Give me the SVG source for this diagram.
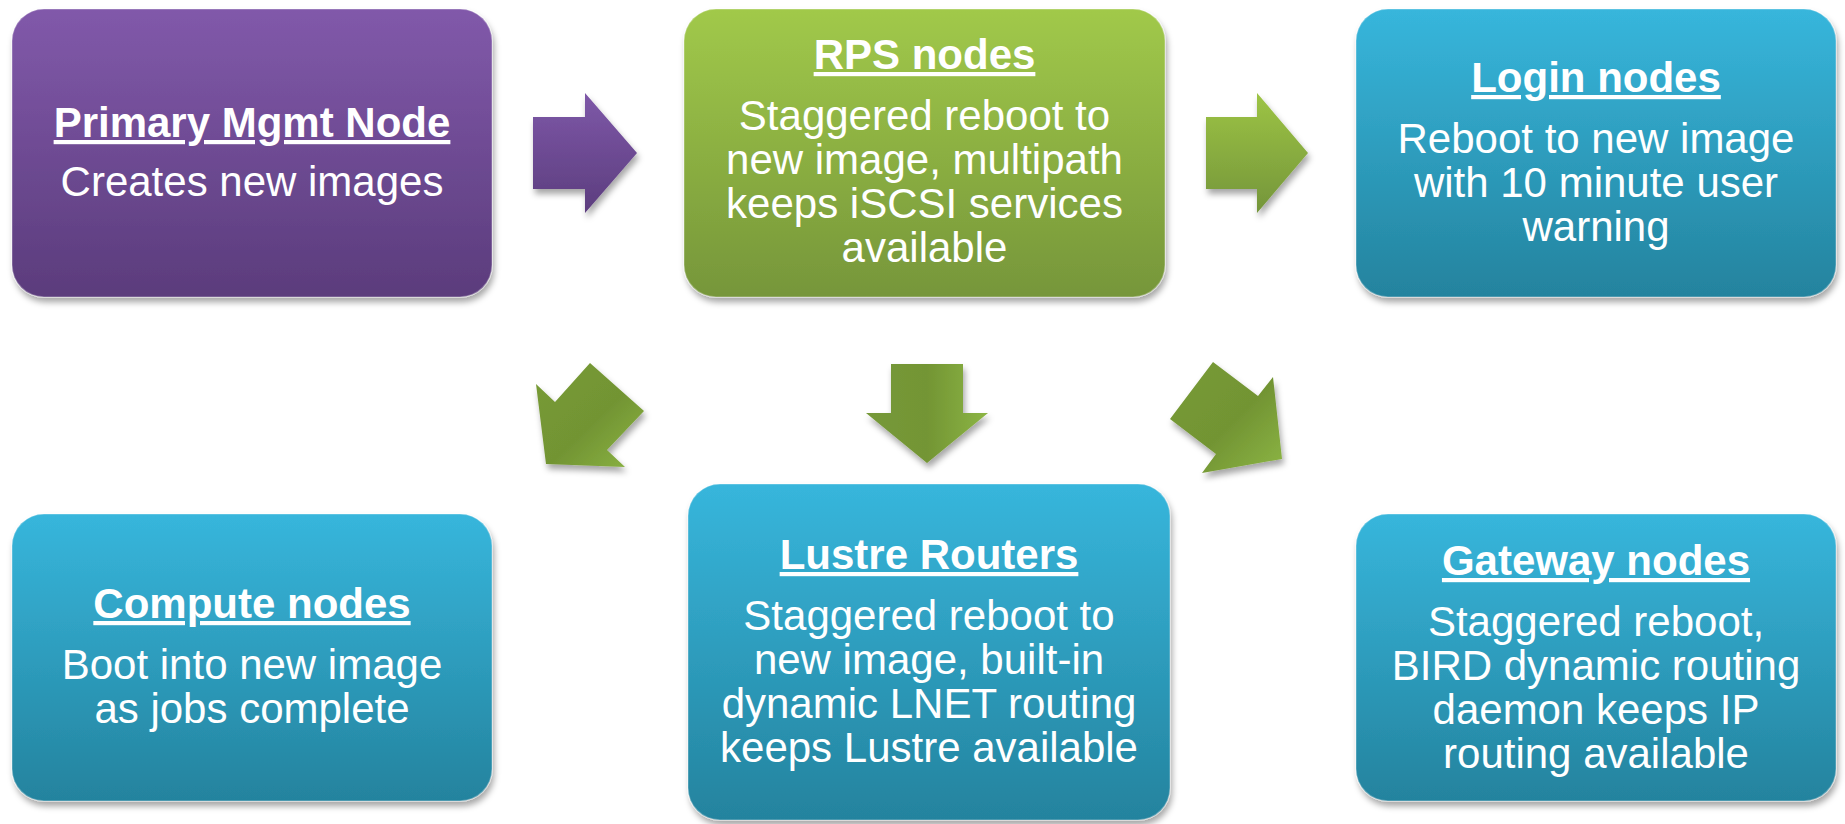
<svg xmlns="http://www.w3.org/2000/svg" width="1845" height="824" viewBox="0 0 1845 824">
  <defs>
    <linearGradient id="gPurple" x1="0" y1="0" x2="0" y2="1">
      <stop offset="0" stop-color="#8159aa"/>
      <stop offset="1" stop-color="#5b3c7c"/>
    </linearGradient>
    <linearGradient id="gGreen" x1="0" y1="0" x2="0" y2="1">
      <stop offset="0" stop-color="#a1c94a"/>
      <stop offset="1" stop-color="#76963a"/>
    </linearGradient>
    <linearGradient id="gBlue" x1="0" y1="0" x2="0" y2="1">
      <stop offset="0" stop-color="#37b6dc"/>
      <stop offset="1" stop-color="#24839e"/>
    </linearGradient>
    <linearGradient id="gArrowPurple" x1="0" y1="0" x2="0" y2="1">
      <stop offset="0" stop-color="#7e58a8"/>
      <stop offset="1" stop-color="#5c3d7e"/>
    </linearGradient>
    <linearGradient id="gArrowGreen" x1="0" y1="0" x2="0" y2="1">
      <stop offset="0" stop-color="#9dc445"/>
      <stop offset="1" stop-color="#74953a"/>
    </linearGradient>
    <linearGradient id="gArrowDiag" x1="0" y1="0" x2="1" y2="1">
      <stop offset="0" stop-color="#789b36"/>
      <stop offset="0.55" stop-color="#729433"/>
      <stop offset="1" stop-color="#8cb544"/>
    </linearGradient>
    <linearGradient id="gArrowDown" x1="0" y1="0" x2="1" y2="0">
      <stop offset="0" stop-color="#76993a"/>
      <stop offset="0.5" stop-color="#739534"/>
      <stop offset="1" stop-color="#8cb544"/>
    </linearGradient>
    <filter id="shadow" x="-10%" y="-10%" width="125%" height="130%">
      <feDropShadow dx="2" dy="5" stdDeviation="3" flood-color="#000" flood-opacity="0.35"/>
    </filter>
  </defs>
  <style>
    .box { filter: url(#shadow); stroke: rgba(255,255,255,0.25); stroke-width: 1.5; }
    .arrow { filter: url(#shadow); }
    text { font-family: "Liberation Sans", Arial, sans-serif; fill: #ffffff; font-size: 42px; text-anchor: middle; }
    .title { font-weight: bold; text-decoration: underline; }
  </style>
  <rect width="1845" height="824" fill="#ffffff"/>

  <g id="connectors">
    <polygon class="arrow" fill="url(#gArrowPurple)" points="533,117 585,117 585,93 637,153 585,213 585,189 533,189"/>
    <polygon class="arrow" fill="url(#gArrowGreen)" points="1206,117 1257,117 1257,93 1308,153 1257,213 1257,189 1206,189"/>
    <polygon class="arrow" fill="url(#gArrowDiag)" points="590,363 644,411 607,450 625,467 546,464 536,384 555,402"/>
    <polygon class="arrow" fill="url(#gArrowDown)" points="891,364 963,364 963,413 988,413 927,463 866,413 891,413"/>
    <polygon class="arrow" fill="url(#gArrowDiag)" points="1213,362 1258,396 1273,377 1282,459 1202,473 1216,454 1170,419"/>
  </g>

  <g id="primary">
    <rect class="box" x="12" y="9" width="480" height="288" rx="32" fill="url(#gPurple)"/>
    <text class="title" x="252" y="137">Primary Mgmt Node</text>
    <text x="252" y="196">Creates new images</text>
  </g>

  <g id="rps">
    <rect class="box" x="684" y="9" width="481" height="288" rx="32" fill="url(#gGreen)"/>
    <text class="title" x="924.5" y="69">RPS nodes</text>
    <text x="924.5" y="130">Staggered reboot to</text>
    <text x="924.5" y="174">new image, multipath</text>
    <text x="924.5" y="218">keeps iSCSI services</text>
    <text x="924.5" y="262">available</text>
  </g>

  <g id="login">
    <rect class="box" x="1356" y="9" width="480" height="288" rx="32" fill="url(#gBlue)"/>
    <text class="title" x="1596" y="92">Login nodes</text>
    <text x="1596" y="153">Reboot to new image</text>
    <text x="1596" y="197">with 10 minute user</text>
    <text x="1596" y="241">warning</text>
  </g>

  <g id="compute">
    <rect class="box" x="12" y="514" width="480" height="287" rx="32" fill="url(#gBlue)"/>
    <text class="title" x="252" y="618">Compute nodes</text>
    <text x="252" y="679">Boot into new image</text>
    <text x="252" y="723">as jobs complete</text>
  </g>

  <g id="lustre">
    <rect class="box" x="688" y="484" width="482" height="336" rx="32" fill="url(#gBlue)"/>
    <text class="title" x="929" y="569">Lustre Routers</text>
    <text x="929" y="630">Staggered reboot to</text>
    <text x="929" y="674">new image, built-in</text>
    <text x="929" y="718">dynamic LNET routing</text>
    <text x="929" y="762">keeps Lustre available</text>
  </g>

  <g id="gateway">
    <rect class="box" x="1356" y="514" width="480" height="287" rx="32" fill="url(#gBlue)"/>
    <text class="title" x="1596" y="575">Gateway nodes</text>
    <text x="1596" y="636">Staggered reboot,</text>
    <text x="1596" y="680">BIRD dynamic routing</text>
    <text x="1596" y="724">daemon keeps IP</text>
    <text x="1596" y="768">routing available</text>
  </g>
</svg>
